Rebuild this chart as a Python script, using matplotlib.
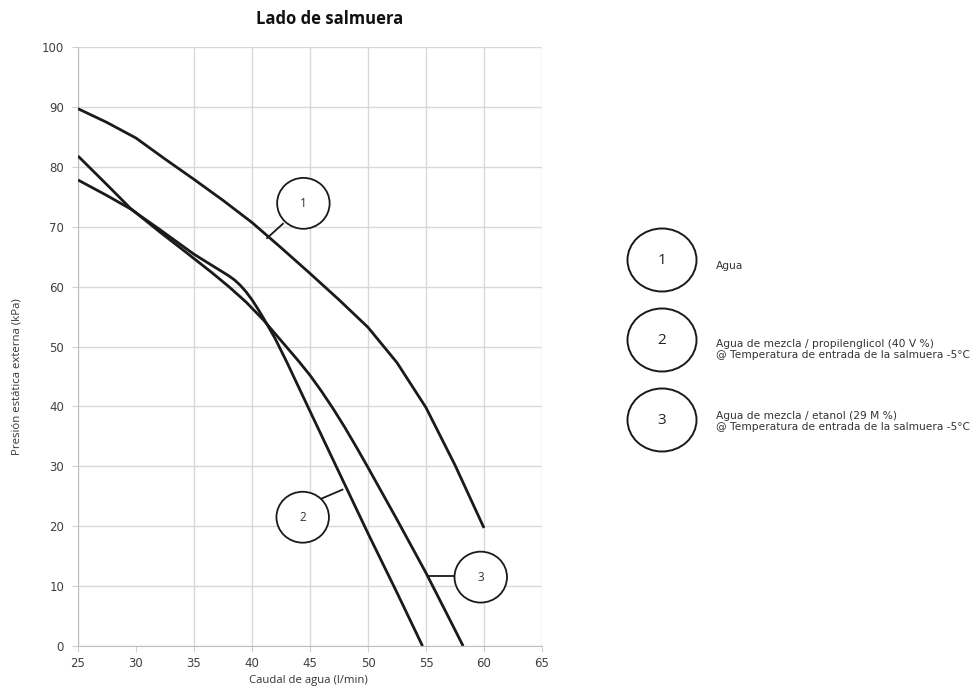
import matplotlib
matplotlib.use("Agg")
import matplotlib.pyplot as plt
from matplotlib.patches import Ellipse

# caudal (l/min) vs presion estatica externa (kPa), lado de salmuera
flow_agua = [25, 27.5, 30, 32.5, 35, 37.5, 40, 42.5, 45, 47.5, 50, 52.5, 55, 57.5, 60]
dp_agua = [89.7, 87.4, 84.8, 81.3, 77.9, 74.4, 70.7, 66.5, 62.2, 57.8, 53.2, 47.3, 39.8, 30.2, 19.7]

flow_propilen = [25, 27.5, 29.5, 32, 34, 35, 36.5, 37.5, 38, 38.5, 39, 39.5, 40, 40.5, 41,
                 42, 43, 44, 45, 47.5, 50, 52.5, 54.7]
dp_propilen = [77.8, 75.2, 73, 69.6, 66.8, 65.4, 63.6, 62.4, 61.8, 61.1, 60.2, 59.1, 57.8, 56.3, 54.7,
               51.3, 47.4, 43.3, 39.2, 29, 18.8, 8.9, 0]

flow_etanol = [25, 27.5, 29.5, 32, 34, 36.5, 38, 39.5, 41, 42.1, 44, 45, 46, 47, 48, 49, 50,
               52.5, 55, 57, 58.2]
dp_etanol = [81.8, 77, 73.1, 69.2, 66.2, 62.4, 60, 57.4, 54.4, 51.9, 47.6, 45.2, 42.5, 39.6, 36.5,
             33.2, 29.8, 21.1, 12.2, 4.6, 0]

x_ticks = [25, 30, 35, 40, 45, 50, 55, 60, 65]
y_ticks = [0, 10, 20, 30, 40, 50, 60, 70, 80, 90, 100]

curve_ids = ["1", "2", "3"]
legend_lines = [
    "Agua",
    "Agua de mezcla / propilenglicol (40 V %)\n@ Temperatura de entrada de la salmuera -5°C",
    "Agua de mezcla / etanol (29 M %)\n@ Temperatura de entrada de la salmuera -5°C",
]

# callouts: circle centre, leader start, leader end (data units)
callout_xy = [(44.43, 73.9), (44.37, 21.5), (59.72, 11.5)]
leader_from = [(42.67, 70.5), (45.98, 24.6), (57.5, 11.67)]
leader_to = [(41.3, 68.1), (47.8, 26.1), (55.17, 11.67)]

ink = "#1a1a1a"
text_font = ["Open Sans", "DejaVu Sans"]

fig = plt.figure(figsize=(9.76, 6.95), dpi=100)
ax = fig.add_axes([78 / 976, 1 - 646 / 695, 464 / 976, 599 / 695])

for fx, fy in [(flow_agua, dp_agua), (flow_propilen, dp_propilen), (flow_etanol, dp_etanol)]:
    ax.plot(fx, fy, color=ink, lw=2.0, solid_capstyle="butt", solid_joinstyle="round", zorder=3)

ax.set_xlim(25, 65)
ax.set_ylim(0, 100)
ax.set_xticks(x_ticks)
ax.set_yticks(y_ticks)
ax.grid(True, color="#d9d9d9", lw=1.0)
ax.set_axisbelow(True)
# no vertical gridline at 30
ax.get_xgridlines()[1].set_visible(False)

for side in ["top", "right"]:
    ax.spines[side].set_visible(False)
for side in ["left", "bottom"]:
    ax.spines[side].set_color("#bfbfbf")
ax.tick_params(length=4, color="#d0d0d0", labelsize=8.5, labelcolor="#404040", pad=4)
ax.tick_params(axis="y", pad=6)

for cid, (cx, cy), p0, p1 in zip(curve_ids, callout_xy, leader_from, leader_to):
    ax.plot([p0[0], p1[0]], [p0[1], p1[1]], color=ink, lw=1.3, zorder=4)
    ax.add_patch(Ellipse((cx, cy), 52.5 / 11.6, 51 / 6, facecolor="white",
                         edgecolor=ink, lw=1.3, zorder=5, clip_on=False))
    ax.text(cx, cy, cid, ha="center", va="center", fontsize=8.5, color="#333333",
            zorder=6, family=text_font)

fig.text(330 / 976, 1 - 19.5 / 695, "Lado de salmuera", ha="center", va="center",
         fontsize=12, fontweight="bold", color="#111111", family=text_font)
fig.text(308 / 976, 1 - 681 / 695, "Caudal de agua (l/min)", ha="center", va="center",
         fontsize=8.2, color="#333333", family=text_font)
fig.text(17.5 / 976, 1 - 377 / 695, "Presión estática externa (kPa)", ha="center",
         va="center", rotation=90, fontsize=8.2, color="#333333", family=text_font)

# legend: big circles with number and description
legend_cy = [260, 340, 420]
text_cy = [266.5, 349.5, 421.5]
for cid, label, cy, ty in zip(curve_ids, legend_lines, legend_cy, text_cy):
    fig.add_artist(Ellipse((662 / 100, (695 - cy) / 100), 0.69, 0.63,
                           transform=fig.dpi_scale_trans, facecolor="white",
                           edgecolor=ink, lw=1.4))
    fig.text(662 / 976, 1 - cy / 695, cid, ha="center", va="center", fontsize=11,
             color="#222222", family=text_font)
    fig.text(716 / 976, 1 - ty / 695, label, ha="left", va="center", fontsize=7.7,
             color="#333333", linespacing=1.15, family="DejaVu Sans")

fig.savefig("out.png", dpi=100)
